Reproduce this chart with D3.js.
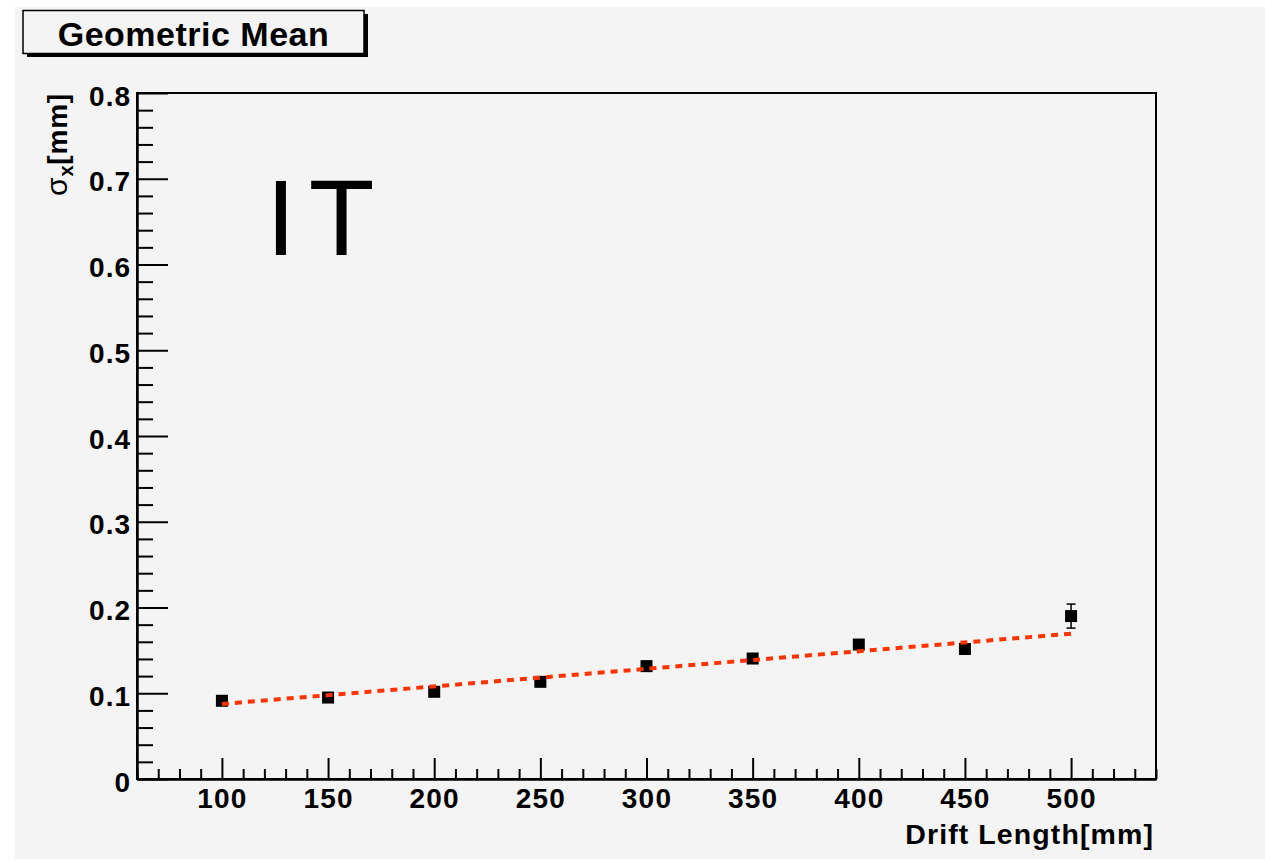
<!DOCTYPE html>
<html>
<head>
<meta charset="utf-8">
<script src="https://cdn.jsdelivr.net/npm/d3@7"></script>
<style>
  html, body { margin: 0; padding: 0; background: #ffffff; }
  svg { display: block; }
  text { font-family: "Liberation Sans", Arial, Helvetica, sans-serif; }
</style>
</head>
<body>
<script>
// ---- data ----
const driftLength = [100, 150, 200, 250, 300, 350, 400, 450, 500];
const sigmaX = [0.0912, 0.0950, 0.1017, 0.1133, 0.1316, 0.1405, 0.1568, 0.1516, 0.1900];
const sigmaErr = [0.003, 0.003, 0.003, 0.004, 0.004, 0.004, 0.005, 0.005, 0.014];
const fitX = [100, 500];
const fitY = [0.0875, 0.1695];
const xTicks = [100, 150, 200, 250, 300, 350, 400, 450, 500];
const yTicks = [0, 0.1, 0.2, 0.3, 0.4, 0.5, 0.6, 0.7, 0.8];
const titleText = "Geometric Mean";
const xLabel = "Drift Length[mm]";
const tagText = "IT";

const W = 1265, H = 861;
const mLeft = 137, mRight = 1156, mTop = 93, mBottom = 779;

const svg = d3.select("body").append("svg").attr("width", W).attr("height", H);

// canvas background
svg.append("rect").attr("x", 15).attr("y", 7).attr("width", W - 15).attr("height", 852).attr("fill", "#f4f4f4");

const x = d3.scaleLinear().domain([60, 540]).range([mLeft, mRight]);
const y = d3.scaleLinear().domain([0, 0.8]).range([mBottom, mTop]);

// frame
svg.append("rect").attr("x", mLeft).attr("y", mTop).attr("width", mRight - mLeft).attr("height", mBottom - mTop)
  .attr("fill", "none").attr("stroke", "#000").attr("stroke-width", 2);

// minor ticks
const xMinor = d3.range(60, 541, 10).filter(v => v % 50 !== 0);
const yMinor = d3.range(0, 41, 1).filter(i => i % 5 !== 0).map(i => i * 0.02);

const gxMinor = svg.append("g").attr("transform", `translate(0,${mBottom})`)
  .call(d3.axisBottom(x).tickValues(xMinor).tickSizeInner(-10).tickSizeOuter(0).tickFormat(""));
const gyMinor = svg.append("g").attr("transform", `translate(${mLeft},0)`)
  .call(d3.axisLeft(y).tickValues(yMinor).tickSizeInner(-16).tickSizeOuter(0).tickFormat(""));

// major axes
const gx = svg.append("g").attr("transform", `translate(0,${mBottom})`)
  .call(d3.axisBottom(x).tickValues(xTicks).tickSizeInner(-21).tickSizeOuter(0).tickPadding(9).tickFormat(d3.format("d")));
const gy = svg.append("g").attr("transform", `translate(${mLeft},0)`)
  .call(d3.axisLeft(y).tickValues(yTicks).tickSizeInner(-31).tickSizeOuter(0).tickPadding(6)
    .tickFormat(d => d === 0 ? "0" : d3.format(".1f")(d)));

[gxMinor, gyMinor, gx, gy].forEach(g => {
  g.select(".domain").attr("stroke", "#000").attr("stroke-width", 2);
  g.selectAll(".tick line").attr("stroke", "#000").attr("stroke-width", 2);
});
gx.selectAll(".tick text").attr("font-size", 28).attr("font-weight", "bold").attr("fill", "#000")
  .attr("letter-spacing", 1.2).attr("font-family", "'Liberation Sans', Arial, sans-serif");
gy.selectAll(".tick text").attr("font-size", 28).attr("font-weight", "bold").attr("fill", "#000")
  .attr("letter-spacing", 1).attr("dy", "0.43em").attr("font-family", "'Liberation Sans', Arial, sans-serif");

// axis titles
svg.append("text").attr("x", 1154).attr("y", 844).attr("text-anchor", "end")
  .attr("font-size", 28.5).attr("font-weight", "bold").attr("letter-spacing", 1.1).text(xLabel);

const yl = svg.append("text").attr("transform", `translate(67,${mTop}) rotate(-90)`)
  .attr("text-anchor", "end").attr("font-size", 28).attr("font-weight", "bold").attr("letter-spacing", 0.8);
yl.append("tspan").attr("font-weight", "normal").attr("font-size", 30).text("σ");
yl.append("tspan").attr("font-size", 20).attr("dy", 6).text("x");
yl.append("tspan").attr("dy", -6).text("[mm]");

// error bars (only where they extend beyond the marker)
const half = 6;
driftLength.forEach((d, i) => {
  const cx = x(d);
  const y1 = y(sigmaX[i] + sigmaErr[i]);
  const y2 = y(sigmaX[i] - sigmaErr[i]);
  if (y(sigmaX[i]) - y1 <= half) return;
  const g = svg.append("g").attr("stroke", "#000").attr("stroke-width", 1.5);
  g.append("line").attr("x1", cx).attr("x2", cx).attr("y1", y1).attr("y2", y2);
  g.append("line").attr("x1", cx - 4.5).attr("x2", cx + 4.5).attr("y1", y1).attr("y2", y1);
  g.append("line").attr("x1", cx - 4.5).attr("x2", cx + 4.5).attr("y1", y2).attr("y2", y2);
});

// markers
svg.append("g").selectAll("rect").data(driftLength).join("rect")
  .attr("x", d => x(d) - half).attr("y", (d, i) => y(sigmaX[i]) - half)
  .attr("width", 2 * half).attr("height", 2 * half).attr("fill", "#000");

// fit line
const line = d3.line().x(d => x(d[0])).y(d => y(d[1]));
svg.append("path").datum(fitX.map((v, i) => [v, fitY[i]])).attr("d", line)
  .attr("fill", "none").attr("stroke", "#ff3300").attr("stroke-width", 4).attr("stroke-dasharray", "7,6");

// "IT" tag
svg.append("text").attr("x", 266).attr("y", 255).attr("font-size", 107.5).attr("letter-spacing", 13)
  .attr("fill", "#000").text(tagText);

// title box with shadow
svg.append("rect").attr("x", 27).attr("y", 14).attr("width", 341).attr("height", 43).attr("fill", "#000");
svg.append("rect").attr("x", 23).attr("y", 10.5).attr("width", 341).attr("height", 43)
  .attr("fill", "#f4f4f4").attr("stroke", "#000").attr("stroke-width", 1.5);
svg.append("text").attr("x", 193.5).attr("y", 46).attr("text-anchor", "middle")
  .attr("font-size", 34).attr("font-weight", "bold").attr("letter-spacing", 0.5).text(titleText);
</script>
</body>
</html>
